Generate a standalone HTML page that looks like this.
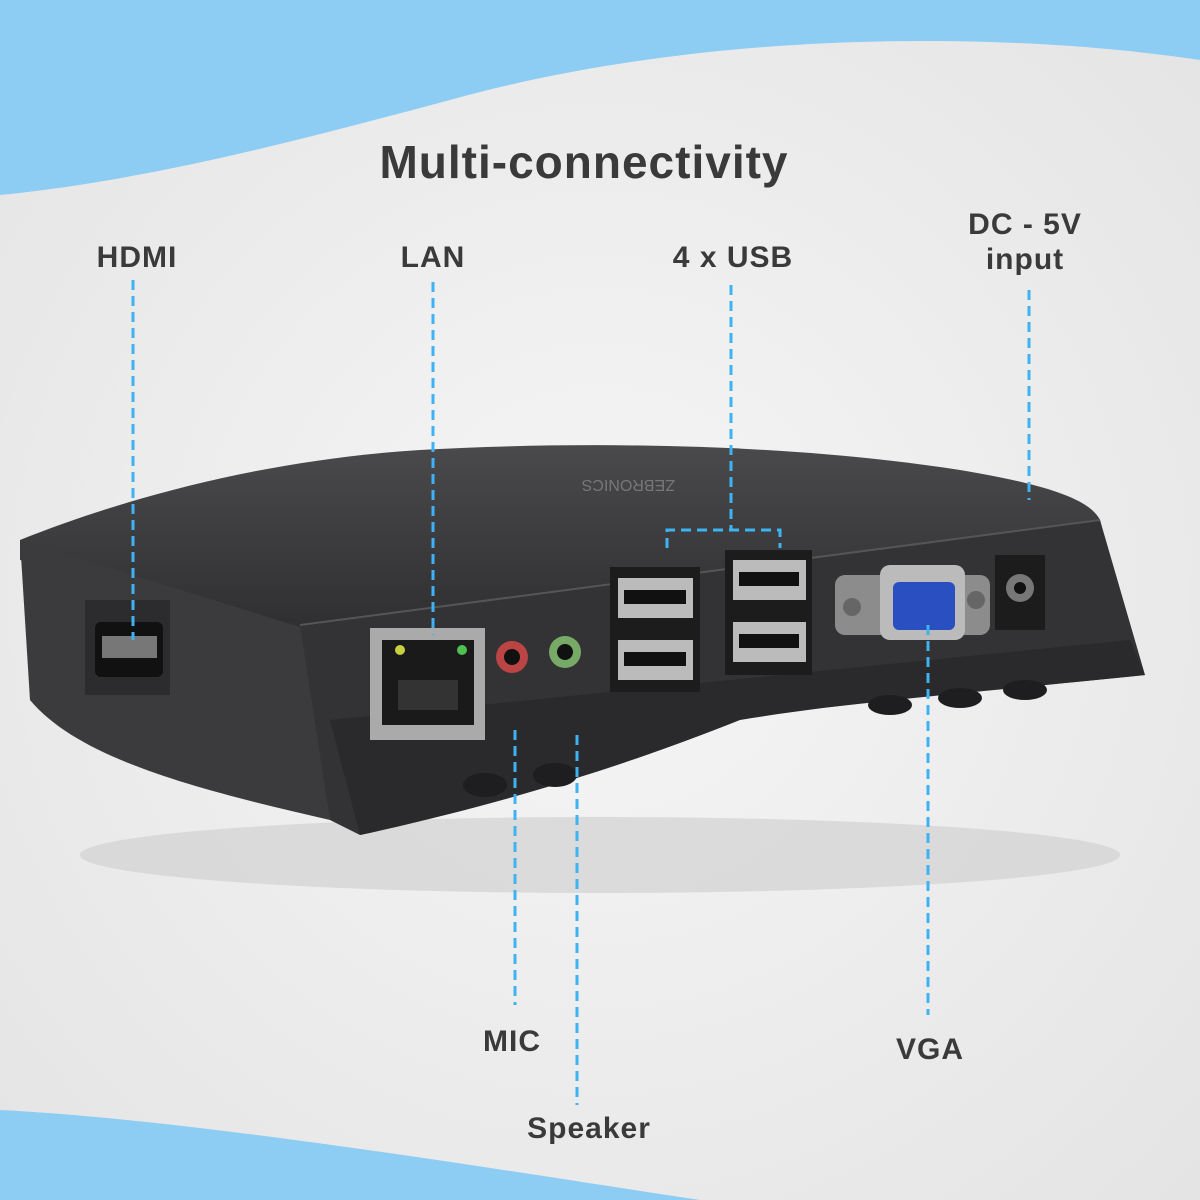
<!DOCTYPE html>
<html><head><meta charset="utf-8"><style>
html,body{margin:0;padding:0;width:1200px;height:1200px;overflow:hidden;background:#ececec;}
svg{display:block}
text{font-family:"Liberation Sans",sans-serif;font-weight:bold;fill:#3a3a3a}
</style></head><body>
<svg width="1200" height="1200" viewBox="0 0 1200 1200">
<defs>
<radialGradient id="bg" cx="50%" cy="50%" r="70%"><stop offset="0" stop-color="#f6f6f6"/><stop offset="1" stop-color="#e4e4e4"/></radialGradient>
<linearGradient id="top" x1="0" y1="0" x2="0" y2="1"><stop offset="0" stop-color="#4a4a4d"/><stop offset="1" stop-color="#2f2f31"/></linearGradient>
</defs>
<rect width="1200" height="1200" fill="url(#bg)"/>
<path d="M0 0 H1200 V60 C1000 30 700 30 450 100 C300 140 150 180 0 195 Z" fill="#8dcdf3"/>
<path d="M0 1110 C200 1120 500 1170 700 1200 H0 Z" fill="#8dcdf3"/>
<ellipse cx="600" cy="855" rx="520" ry="38" fill="#d2d2d2" opacity="0.7"/>
<path d="M20 540 C120 500 260 460 420 450 C600 440 800 445 960 470 C1050 485 1090 500 1100 520 L1110 560 L310 630 L20 560 Z" fill="url(#top)"/>
<path d="M20 540 L310 630 L330 820 C200 790 80 760 30 700 Z" fill="#3b3b3d"/>
<path d="M300 625 L1100 520 L1145 675 C1000 690 880 700 720 720 C620 760 520 800 360 835 L330 820 Z" fill="#333335"/>
<path d="M330 720 L1130 640 L1145 675 C1000 690 860 700 740 720 C640 760 520 800 360 835 Z" fill="#2a2a2c"/>
<path d="M300 625 L1100 520" stroke="#555" stroke-width="2"/>
<rect x="85" y="600" width="85" height="95" fill="#2c2c2e"/>
<rect x="95" y="622" width="68" height="55" rx="6" fill="#111"/>
<rect x="102" y="636" width="55" height="22" fill="#777"/>
<rect x="370" y="628" width="115" height="112" fill="#aaa"/>
<rect x="382" y="640" width="92" height="85" fill="#1a1a1a"/>
<rect x="398" y="680" width="60" height="30" fill="#333"/>
<circle cx="400" cy="650" r="5" fill="#c8d040"/><circle cx="462" cy="650" r="5" fill="#50c050"/>
<circle cx="512" cy="657" r="16" fill="#b44"/><circle cx="512" cy="657" r="8" fill="#111"/>
<circle cx="565" cy="652" r="16" fill="#7a6"/><circle cx="565" cy="652" r="8" fill="#111"/>
<rect x="610" y="567" width="90" height="125" fill="#1c1c1c"/>
<rect x="618" y="578" width="75" height="40" fill="#bbb"/><rect x="624" y="590" width="62" height="14" fill="#111"/>
<rect x="618" y="640" width="75" height="40" fill="#bbb"/><rect x="624" y="652" width="62" height="14" fill="#111"/>
<rect x="725" y="550" width="87" height="125" fill="#1c1c1c"/>
<rect x="733" y="560" width="73" height="40" fill="#bbb"/><rect x="739" y="572" width="60" height="14" fill="#111"/>
<rect x="733" y="622" width="73" height="40" fill="#bbb"/><rect x="739" y="634" width="60" height="14" fill="#111"/>
<rect x="835" y="575" width="155" height="60" rx="10" fill="#8c8c8c"/>
<rect x="880" y="565" width="85" height="75" rx="10" fill="#bbb"/>
<rect x="893" y="582" width="62" height="48" rx="6" fill="#2a4fc0"/>
<circle cx="852" cy="607" r="9" fill="#666"/><circle cx="976" cy="600" r="9" fill="#666"/>
<rect x="995" y="555" width="50" height="75" fill="#1c1c1c"/>
<circle cx="1020" cy="588" r="14" fill="#777"/><circle cx="1020" cy="588" r="6" fill="#111"/>
<g fill="#1e1e20"><ellipse cx="485" cy="785" rx="22" ry="12"/><ellipse cx="555" cy="775" rx="22" ry="12"/><ellipse cx="890" cy="705" rx="22" ry="10"/><ellipse cx="960" cy="698" rx="22" ry="10"/><ellipse cx="1025" cy="690" rx="22" ry="10"/></g>
<text x="485" y="500" transform="rotate(180 580 490)" font-size="16" style="fill:#777;font-weight:normal">ZEBRONICS</text>
<g stroke="#3fb3f2" stroke-width="3" stroke-dasharray="10,6" fill="none">
<path d="M133 280 V640"/><path d="M433 282 V635"/>
<path d="M731 285 V530 M667 548 V530 H780 V548"/>
<path d="M1029 290 V500"/><path d="M515 730 V1005"/><path d="M577 735 V1105"/><path d="M928 625 V1015"/>
</g>
<text x="584" y="178" font-size="46" text-anchor="middle" letter-spacing="1">Multi-connectivity</text>
<g font-size="30" text-anchor="middle" letter-spacing="1">
<text x="137" y="267">HDMI</text><text x="433" y="267">LAN</text><text x="733" y="267">4 x USB</text>
<text x="1025" y="234">DC - 5V</text><text x="1025" y="269">input</text>
<text x="512" y="1051">MIC</text><text x="589" y="1138">Speaker</text><text x="930" y="1059">VGA</text>
</g>
</svg>
</body></html>
